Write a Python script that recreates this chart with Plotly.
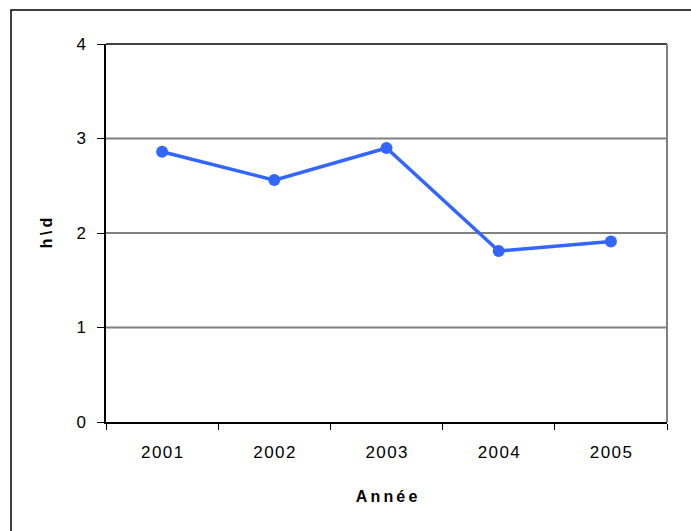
import plotly.graph_objects as go

# Yearly values (h\d)
years = ["2001", "2002", "2003", "2004", "2005"]
values = [2.86, 2.56, 2.90, 1.81, 1.91]
y_ticks = [0, 1, 2, 3, 4]

FONT = "Arial, Liberation Sans, sans-serif"
THIN = "\u2009"
HAIR = "\u200a"

fig = go.Figure(
    go.Scatter(
        x=years,
        y=values,
        mode="lines+markers",
        line=dict(color="#3366FF", width=3.5),
        marker=dict(color="#3366FF", size=12),
        cliponaxis=False,
    )
)

fig.update_layout(
    width=691,
    height=531,
    margin=dict(l=106, r=24, t=44, b=109),
    paper_bgcolor="white",
    plot_bgcolor="white",
    showlegend=False,
    font=dict(family=FONT, color="black", size=17),
)

fig.update_xaxes(
    type="category",
    range=[-0.5, len(years) - 0.5],
    tickson="boundaries",
    tickvals=years,
    ticktext=[HAIR.join(y) for y in years],
    ticks="outside",
    ticklen=6,
    tickcolor="black",
    showline=True,
    linecolor="black",
    linewidth=1.5,
    showgrid=False,
    tickfont=dict(family=FONT, size=17),
    ticklabelstandoff=14,
    title=dict(
        text=THIN.join("Année"),
        font=dict(family=FONT, size=16, weight="bold"),
        standoff=30,
    ),
)

fig.update_yaxes(
    range=[0, 4],
    tickvals=y_ticks,
    ticks="outside",
    ticklen=7,
    tickcolor="black",
    showline=True,
    linecolor="black",
    linewidth=1.5,
    showgrid=False,
    zeroline=False,
    tickfont=dict(family=FONT, size=17),
    ticklabelstandoff=8,
    title=dict(
        text=THIN.join("h\\d"),
        font=dict(family=FONT, size=16, weight="bold"),
        standoff=20,
    ),
)

# horizontal gridlines between the frame edges
grid_style = {1: ("#808080", 2), 2: ("black", 1), 3: ("#808080", 2)}
shapes = []
for v in y_ticks[1:-1]:
    color, width = grid_style[v]
    shapes.append(dict(type="line", xref="paper", yref="y", x0=0, x1=1, y0=v, y1=v,
                       line=dict(color=color, width=width), layer="between"))

shapes += [
    # top edge of the plot frame
    dict(type="line", xref="paper", yref="paper", x0=0, x1=1, y0=1, y1=1,
         line=dict(color="black", width=1.5)),
    # right edge of the plot frame
    dict(type="line", xref="paper", yref="paper", x0=1, x1=1, y0=0, y1=1,
         line=dict(color="#808080", width=2)),
    # outer chart frame
    dict(type="rect", xref="paper", yref="paper", x0=-0.1693, x1=1.2, y0=-0.4, y1=1.09,
         line=dict(color="black", width=1.5), layer="below"),
]
fig.update_layout(shapes=shapes)

fig.write_html("out.html")
